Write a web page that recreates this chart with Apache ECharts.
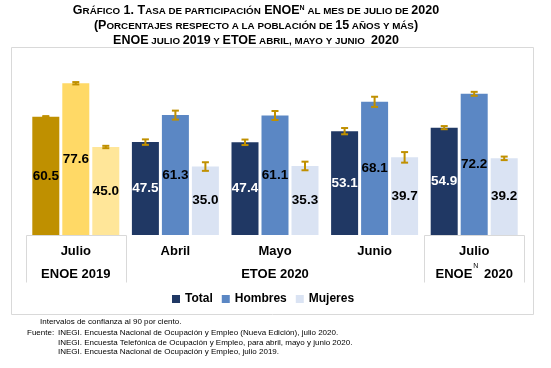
<!DOCTYPE html>
<html>
<head>
<meta charset="utf-8">
<script src="https://cdn.jsdelivr.net/npm/echarts@6/dist/echarts.min.js"></script>
<style>
html,body{margin:0;padding:0;background:#fff;}
#chart{width:551px;height:368px;}
</style>
</head>
<body>
<div id="chart"></div>
<script>
// ---- data ----
var months = ['Julio', 'Abril', 'Mayo', 'Junio', 'Julio'];
var surveys = ['ENOE 2019', '', 'ETOE 2020', '', 'ENOE_N 2020'];
var seriesNames = ['Total', 'Hombres', 'Mujeres'];
var total   = [60.5, 47.5, 47.4, 53.1, 54.9];
var hombres = [77.6, 61.3, 61.1, 68.1, 72.2];
var mujeres = [45.0, 35.0, 35.3, 39.7, 39.2];
var errTotal   = [0.3, 1.4, 1.4, 1.6, 0.8];
var errHombres = [0.6, 2.3, 2.3, 2.6, 1.0];
var errMujeres = [0.6, 2.2, 2.2, 2.7, 0.9];

// ---- style ----
var FONT = 'Liberation Sans, Arial, sans-serif';
var colors2020 = ['#203864', '#5B87C4', '#DAE3F3'];
var colors2019 = ['#BF9000', '#FFD966', '#FFE699'];
var ERR_COLOR = '#C09000';
var BAR_W = 27, GAP = 0.111;

var chart = echarts.init(document.getElementById('chart'), null, {renderer: 'canvas'});

function barSeries(name, values, idx) {
  return {
    type: 'bar',
    name: name,
    barWidth: BAR_W,
    barGap: (GAP * 100) + '%',
    itemStyle: {color: colors2020[idx]},
    data: values.map(function (v, i) {
      var lblColor = (idx === 0 && i > 0) ? '#ffffff' : '#000000';
      return {
        value: v,
        itemStyle: {color: i === 0 ? colors2019[idx] : colors2020[idx]},
        label: {color: lblColor}
      };
    }),
    label: {
      show: true, position: 'inside',
      fontFamily: FONT, fontSize: 13.5, fontWeight: 'bold',
      formatter: function (p) { return p.value.toFixed(1); }
    }
  };
}

function errSeries(values, errs, idx) {
  return {
    type: 'custom',
    silent: true,
    z: 10,
    data: values.map(function (v, i) { return [i, v, errs[i]]; }),
    renderItem: function (params, api) {
      var c = api.value(0), v = api.value(1), e = api.value(2);
      var hi = api.coord([c, v + e]), lo = api.coord([c, v - e]);
      var off = (idx - 1) * (BAR_W * (1 + GAP));
      var x = hi[0] + off, hw = 3.5;
      var st = {stroke: ERR_COLOR, lineWidth: 2};
      return {type: 'group', children: [
        {type: 'line', shape: {x1: x, y1: hi[1], x2: x, y2: lo[1]}, style: st},
        {type: 'line', shape: {x1: x - hw, y1: hi[1], x2: x + hw, y2: hi[1]}, style: st},
        {type: 'line', shape: {x1: x - hw, y1: lo[1], x2: x + hw, y2: lo[1]}, style: st}
      ]};
    }
  };
}

function axisLabelText(value, index) {
  var s = surveys[index];
  var top = '{m|' + months[index] + '}';
  if (!s) return top;
  if (s.indexOf('_N') >= 0) {
    var parts = s.split('_N');
    return top + '\n{s|' + parts[0] + '}{sup|N}{s|' + parts[1] + '}';
  }
  return top + '\n{s|' + s + '}';
}

var option = {
  backgroundColor: '#ffffff',
  animation: false,
  grid: {left: 26, right: 27, top: 59, bottom: 133},
  legend: {
    data: seriesNames,
    left: 172, top: 293, padding: 0,
    icon: 'rect', itemWidth: 8, itemHeight: 8, itemGap: 9,
    textStyle: {fontFamily: FONT, fontSize: 12, fontWeight: 'bold', color: '#000'}
  },
  xAxis: {
    type: 'category',
    data: months.map(function (m, i) { return i; }),
    axisLine: {show: false},
    axisTick: {show: false},
    axisLabel: {
      interval: 0,
      margin: 4.5,
      formatter: axisLabelText,
      rich: {
        m: {fontFamily: FONT, fontSize: 13, fontWeight: 'bold', color: '#000', lineHeight: 23},
        s: {fontFamily: FONT, fontSize: 13, fontWeight: 'bold', color: '#000', lineHeight: 23},
        sup: {fontFamily: FONT, fontSize: 7, color: '#000', lineHeight: 23, verticalAlign: 'top', padding: [0, 2, 0, 1]}
      }
    }
  },
  yAxis: {
    type: 'value', min: 0, max: 90, show: false,
    splitLine: {show: false}
  },
  series: [
    barSeries('Total', total, 0),
    barSeries('Hombres', hombres, 1),
    barSeries('Mujeres', mujeres, 2),
    errSeries(total, errTotal, 0),
    errSeries(hombres, errHombres, 1),
    errSeries(mujeres, errMujeres, 2)
  ]
};
chart.setOption(option);

// ---- decorations: title, frame, table lines, footnotes ----
var big = {fontFamily: FONT, fontSize: 12.5, fontWeight: 'bold', fill: '#000'};
var sm = {fontFamily: FONT, fontSize: 9.8, fontWeight: 'bold', fill: '#000'};
var sup = {fontFamily: FONT, fontSize: 7, fontWeight: 'bold', fill: '#000', verticalAlign: 'top', padding: [0, 0, 5, 0]};
function titleLine(text, y) {
  return {type: 'text', x: 256, y: y, style: {
    text: text, align: 'center', verticalAlign: 'middle',
    rich: {b: big, s: sm, p: sup}
  }};
}

var x0 = chart.convertToPixel({xAxisIndex: 0}, 0);
var x1 = chart.convertToPixel({xAxisIndex: 0}, 1);
var x4 = chart.convertToPixel({xAxisIndex: 0}, 4);
var half = (x1 - x0) / 2;
var base = chart.convertToPixel({yAxisIndex: 0}, 0);
var lineStyle = {stroke: '#d9d9d9', lineWidth: 1};
function ln(xa, ya, xb, yb) {
  return {type: 'line', silent: true, shape: {x1: xa, y1: ya, x2: xb, y2: yb}, style: lineStyle};
}
var bx = [x0 - half, x0 + half, x4 - half, x4 + half].map(function (v) { return Math.round(v) + 0.5; });
var by = Math.round(base) + 0.5;
var foot = {fontFamily: FONT, fontSize: 8, fill: '#000'};

chart.setOption({graphic: [
  {type: 'rect', silent: true, shape: {x: 11.5, y: 47.5, width: 522, height: 267}, style: {fill: null, stroke: '#d9d9d9', lineWidth: 1}, z: -1},
  titleLine('{b|G}{s|RÁFICO}{b| 1. T}{s|ASA DE PARTICIPACIÓN}{b| ENOE}{p|N}{s| AL MES DE JULIO DE }{b|2020}', 11),
  titleLine('{b|(P}{s|ORCENTAJES RESPECTO A LA POBLACIÓN DE }{b|15}{s| AÑOS Y MÁS}{b|)}', 26),
  titleLine('{b|ENOE}{s| JULIO }{b|2019}{s| Y }{b|ETOE}{s| ABRIL, MAYO Y JUNIO }{b| 2020}', 41),
  ln(bx[0], by, bx[1], by), ln(bx[0], by, bx[0], by + 47), ln(bx[1], by, bx[1], by + 47),
  ln(bx[2], by, bx[3], by), ln(bx[2], by, bx[2], by + 47), ln(bx[3], by, bx[3], by + 47),
  {type: 'text', x: 40, y: 322, style: Object.assign({text: 'Intervalos de confianza al 90 por ciento.', verticalAlign: 'middle'}, foot)},
  {type: 'text', x: 27, y: 333, style: Object.assign({text: 'Fuente:', verticalAlign: 'middle'}, foot)},
  {type: 'text', x: 58, y: 333, style: Object.assign({text: 'INEGI. Encuesta Nacional de Ocupación y Empleo (Nueva Edición), julio 2020.', verticalAlign: 'middle'}, foot)},
  {type: 'text', x: 58, y: 343, style: Object.assign({text: 'INEGI. Encuesta Telefónica de Ocupación y Empleo, para abril, mayo y junio 2020.', verticalAlign: 'middle'}, foot)},
  {type: 'text', x: 58, y: 352, style: Object.assign({text: 'INEGI. Encuesta Nacional de Ocupación y Empleo, julio 2019.', verticalAlign: 'middle'}, foot)}
]});
</script>
</body>
</html>
